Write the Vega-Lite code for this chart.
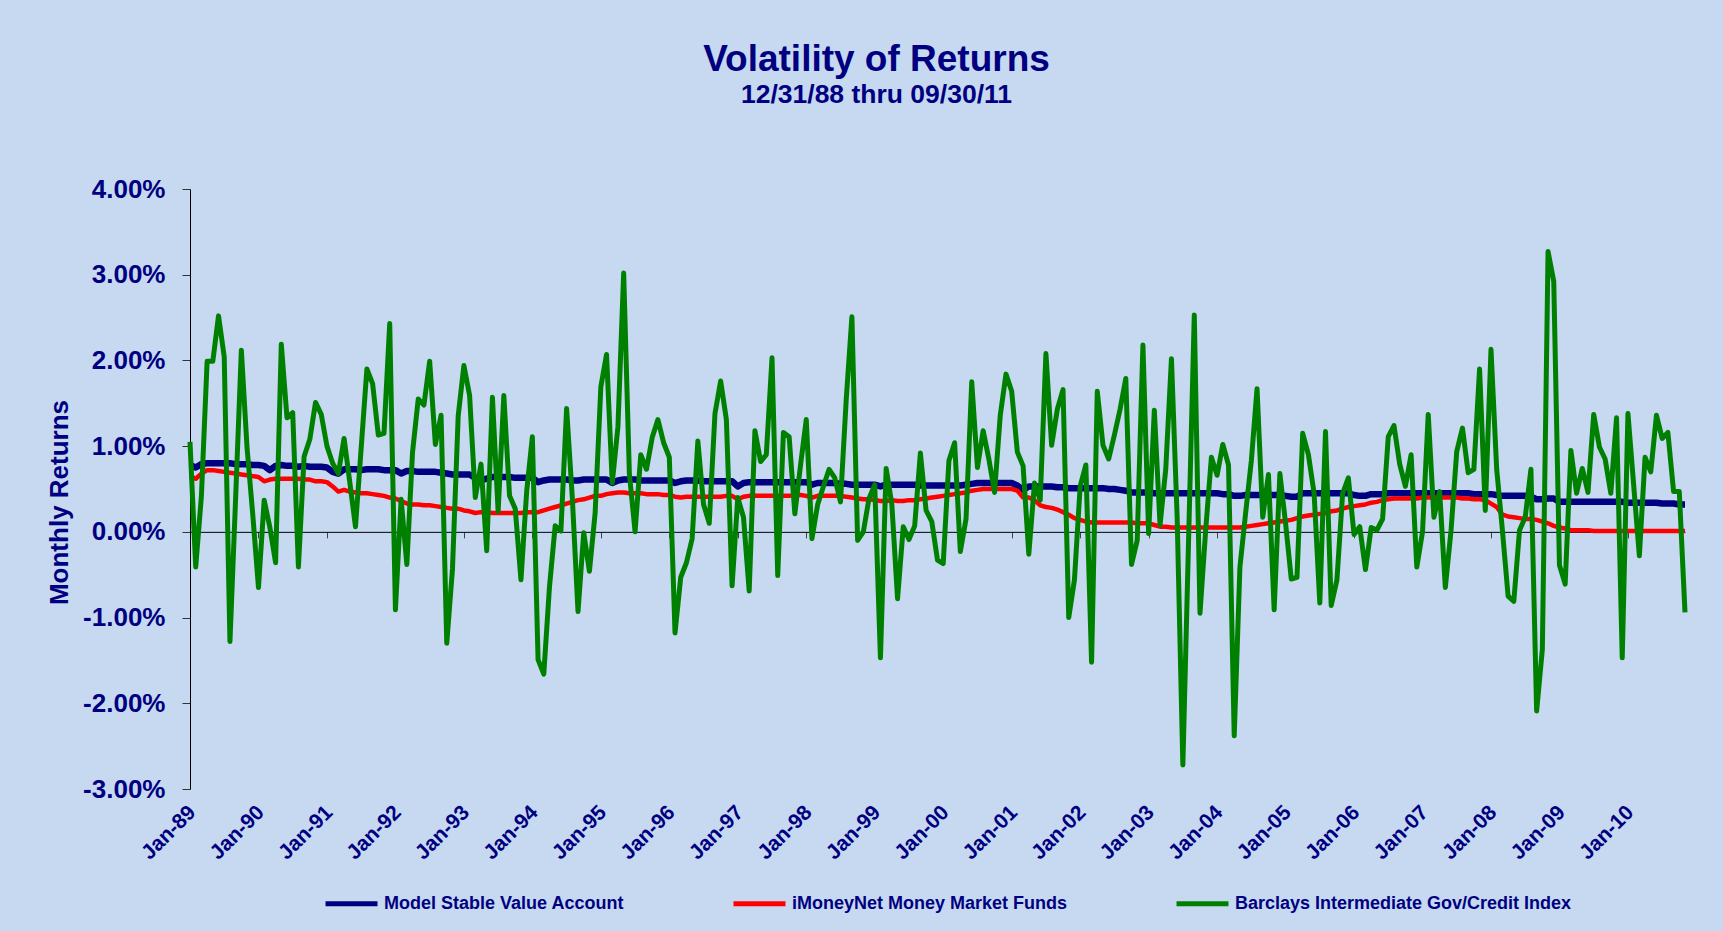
{
"$schema": "https://vega.github.io/schema/vega-lite/v6.json",
"width": 1495, "height": 600,
"autosize": {"type": "none"},
"padding": {"left": 190, "top": 189, "right": 38, "bottom": 142},
"background": "#C6D9F1",
"title": {"text": "Volatility of Returns", "subtitle": "12/31/88 thru 09/30/11", "anchor": "middle", "frame": "group", "dx": -61, "offset": 67, "font": "Liberation Sans", "fontSize": 37, "fontWeight": "bold", "color": "#000080", "subtitleFont": "Liberation Sans", "subtitleFontSize": 26.5, "subtitleFontWeight": "bold", "subtitleColor": "#000080", "subtitlePadding": 3},
"data": {"values": [
{"d":"1989-01","msv":0.78,"mm":0.65,"bc":1.05},{"d":"1989-02","msv":0.75,"mm":0.62,"bc":-0.41},{"d":"1989-03","msv":0.79,"mm":0.68,"bc":0.42},{"d":"1989-04","msv":0.80,"mm":0.72,"bc":1.99},{"d":"1989-05","msv":0.80,"mm":0.72,"bc":1.99},{"d":"1989-06","msv":0.80,"mm":0.71,"bc":2.52},{"d":"1989-07","msv":0.80,"mm":0.70,"bc":2.04},{"d":"1989-08","msv":0.80,"mm":0.69,"bc":-1.28},{"d":"1989-09","msv":0.79,"mm":0.68,"bc":0.40},{"d":"1989-10","msv":0.79,"mm":0.67,"bc":2.12},{"d":"1989-11","msv":0.79,"mm":0.66,"bc":0.98},{"d":"1989-12","msv":0.78,"mm":0.65,"bc":0.20},
{"d":"1990-01","msv":0.78,"mm":0.64,"bc":-0.65},{"d":"1990-02","msv":0.77,"mm":0.59,"bc":0.37},{"d":"1990-03","msv":0.72,"mm":0.61,"bc":0.05},{"d":"1990-04","msv":0.77,"mm":0.62,"bc":-0.36},{"d":"1990-05","msv":0.78,"mm":0.62,"bc":2.19},{"d":"1990-06","msv":0.77,"mm":0.62,"bc":1.33},{"d":"1990-07","msv":0.77,"mm":0.62,"bc":1.39},{"d":"1990-08","msv":0.76,"mm":0.62,"bc":-0.41},{"d":"1990-09","msv":0.77,"mm":0.61,"bc":0.88},{"d":"1990-10","msv":0.76,"mm":0.61,"bc":1.08},{"d":"1990-11","msv":0.76,"mm":0.59,"bc":1.51},{"d":"1990-12","msv":0.76,"mm":0.59,"bc":1.37},
{"d":"1991-01","msv":0.75,"mm":0.58,"bc":1.00},{"d":"1991-02","msv":0.70,"mm":0.53,"bc":0.80},{"d":"1991-03","msv":0.68,"mm":0.47,"bc":0.68},{"d":"1991-04","msv":0.73,"mm":0.49,"bc":1.09},{"d":"1991-05","msv":0.73,"mm":0.47,"bc":0.58},{"d":"1991-06","msv":0.73,"mm":0.46,"bc":0.06},{"d":"1991-07","msv":0.72,"mm":0.45,"bc":0.98},{"d":"1991-08","msv":0.73,"mm":0.45,"bc":1.90},{"d":"1991-09","msv":0.73,"mm":0.44,"bc":1.73},{"d":"1991-10","msv":0.73,"mm":0.43,"bc":1.13},{"d":"1991-11","msv":0.72,"mm":0.42,"bc":1.15},{"d":"1991-12","msv":0.72,"mm":0.40,"bc":2.43},
{"d":"1992-01","msv":0.72,"mm":0.39,"bc":-0.91},{"d":"1992-02","msv":0.68,"mm":0.36,"bc":0.38},{"d":"1992-03","msv":0.71,"mm":0.33,"bc":-0.38},{"d":"1992-04","msv":0.71,"mm":0.32,"bc":0.93},{"d":"1992-05","msv":0.70,"mm":0.32,"bc":1.55},{"d":"1992-06","msv":0.70,"mm":0.31,"bc":1.48},{"d":"1992-07","msv":0.70,"mm":0.31,"bc":1.99},{"d":"1992-08","msv":0.70,"mm":0.30,"bc":1.02},{"d":"1992-09","msv":0.69,"mm":0.29,"bc":1.36},{"d":"1992-10","msv":0.68,"mm":0.28,"bc":-1.30},{"d":"1992-11","msv":0.67,"mm":0.27,"bc":-0.43},{"d":"1992-12","msv":0.67,"mm":0.27,"bc":1.35},
{"d":"1993-01","msv":0.67,"mm":0.25,"bc":1.94},{"d":"1993-02","msv":0.67,"mm":0.24,"bc":1.59},{"d":"1993-03","msv":0.63,"mm":0.22,"bc":0.40},{"d":"1993-04","msv":0.60,"mm":0.23,"bc":0.79},{"d":"1993-05","msv":0.62,"mm":0.23,"bc":-0.22},{"d":"1993-06","msv":0.64,"mm":0.22,"bc":1.57},{"d":"1993-07","msv":0.64,"mm":0.22,"bc":0.24},{"d":"1993-08","msv":0.64,"mm":0.22,"bc":1.59},{"d":"1993-09","msv":0.64,"mm":0.22,"bc":0.42},{"d":"1993-10","msv":0.63,"mm":0.22,"bc":0.27},{"d":"1993-11","msv":0.63,"mm":0.22,"bc":-0.56},{"d":"1993-12","msv":0.63,"mm":0.23,"bc":0.47},
{"d":"1994-01","msv":0.63,"mm":0.23,"bc":1.11},{"d":"1994-02","msv":0.58,"mm":0.23,"bc":-1.49},{"d":"1994-03","msv":0.60,"mm":0.25,"bc":-1.66},{"d":"1994-04","msv":0.61,"mm":0.27,"bc":-0.64},{"d":"1994-05","msv":0.61,"mm":0.29,"bc":0.07},{"d":"1994-06","msv":0.61,"mm":0.31,"bc":0.01},{"d":"1994-07","msv":0.61,"mm":0.33,"bc":1.44},{"d":"1994-08","msv":0.60,"mm":0.35,"bc":0.40},{"d":"1994-09","msv":0.60,"mm":0.37,"bc":-0.93},{"d":"1994-10","msv":0.61,"mm":0.38,"bc":-0.01},{"d":"1994-11","msv":0.61,"mm":0.40,"bc":-0.46},{"d":"1994-12","msv":0.61,"mm":0.42,"bc":0.22},
{"d":"1995-01","msv":0.61,"mm":0.42,"bc":1.69},{"d":"1995-02","msv":0.61,"mm":0.44,"bc":2.07},{"d":"1995-03","msv":0.57,"mm":0.45,"bc":0.57},{"d":"1995-04","msv":0.60,"mm":0.46,"bc":1.23},{"d":"1995-05","msv":0.61,"mm":0.46,"bc":3.02},{"d":"1995-06","msv":0.61,"mm":0.45,"bc":0.68},{"d":"1995-07","msv":0.61,"mm":0.45,"bc":0.00},{"d":"1995-08","msv":0.60,"mm":0.45,"bc":0.90},{"d":"1995-09","msv":0.60,"mm":0.44,"bc":0.73},{"d":"1995-10","msv":0.60,"mm":0.44,"bc":1.10},{"d":"1995-11","msv":0.60,"mm":0.44,"bc":1.31},{"d":"1995-12","msv":0.60,"mm":0.43,"bc":1.04},
{"d":"1996-01","msv":0.60,"mm":0.43,"bc":0.87},{"d":"1996-02","msv":0.57,"mm":0.41,"bc":-1.18},{"d":"1996-03","msv":0.59,"mm":0.40,"bc":-0.53},{"d":"1996-04","msv":0.60,"mm":0.41,"bc":-0.36},{"d":"1996-05","msv":0.60,"mm":0.41,"bc":-0.08},{"d":"1996-06","msv":0.60,"mm":0.41,"bc":1.06},{"d":"1996-07","msv":0.59,"mm":0.41,"bc":0.32},{"d":"1996-08","msv":0.59,"mm":0.41,"bc":0.10},{"d":"1996-09","msv":0.59,"mm":0.41,"bc":1.38},{"d":"1996-10","msv":0.59,"mm":0.41,"bc":1.76},{"d":"1996-11","msv":0.59,"mm":0.42,"bc":1.31},{"d":"1996-12","msv":0.59,"mm":0.42,"bc":-0.63},
{"d":"1997-01","msv":0.53,"mm":0.38,"bc":0.40},{"d":"1997-02","msv":0.57,"mm":0.41,"bc":0.17},{"d":"1997-03","msv":0.58,"mm":0.42,"bc":-0.69},{"d":"1997-04","msv":0.58,"mm":0.42,"bc":1.18},{"d":"1997-05","msv":0.58,"mm":0.42,"bc":0.82},{"d":"1997-06","msv":0.58,"mm":0.42,"bc":0.90},{"d":"1997-07","msv":0.58,"mm":0.42,"bc":2.03},{"d":"1997-08","msv":0.58,"mm":0.42,"bc":-0.51},{"d":"1997-09","msv":0.58,"mm":0.42,"bc":1.16},{"d":"1997-10","msv":0.58,"mm":0.42,"bc":1.11},{"d":"1997-11","msv":0.58,"mm":0.43,"bc":0.21},{"d":"1997-12","msv":0.58,"mm":0.43,"bc":0.78},
{"d":"1998-01","msv":0.58,"mm":0.42,"bc":1.31},{"d":"1998-02","msv":0.55,"mm":0.40,"bc":-0.08},{"d":"1998-03","msv":0.57,"mm":0.42,"bc":0.32},{"d":"1998-04","msv":0.57,"mm":0.42,"bc":0.53},{"d":"1998-05","msv":0.57,"mm":0.42,"bc":0.73},{"d":"1998-06","msv":0.57,"mm":0.42,"bc":0.63},{"d":"1998-07","msv":0.56,"mm":0.42,"bc":0.35},{"d":"1998-08","msv":0.56,"mm":0.41,"bc":1.54},{"d":"1998-09","msv":0.55,"mm":0.40,"bc":2.51},{"d":"1998-10","msv":0.55,"mm":0.39,"bc":-0.10},{"d":"1998-11","msv":0.55,"mm":0.38,"bc":0.00},{"d":"1998-12","msv":0.55,"mm":0.38,"bc":0.39},
{"d":"1999-01","msv":0.55,"mm":0.37,"bc":0.55},{"d":"1999-02","msv":0.53,"mm":0.36,"bc":-1.47},{"d":"1999-03","msv":0.55,"mm":0.36,"bc":0.74},{"d":"1999-04","msv":0.55,"mm":0.37,"bc":0.32},{"d":"1999-05","msv":0.55,"mm":0.36,"bc":-0.78},{"d":"1999-06","msv":0.55,"mm":0.36,"bc":0.06},{"d":"1999-07","msv":0.55,"mm":0.37,"bc":-0.09},{"d":"1999-08","msv":0.55,"mm":0.37,"bc":0.07},{"d":"1999-09","msv":0.54,"mm":0.38,"bc":0.92},{"d":"1999-10","msv":0.54,"mm":0.39,"bc":0.25},{"d":"1999-11","msv":0.54,"mm":0.40,"bc":0.12},{"d":"1999-12","msv":0.54,"mm":0.41,"bc":-0.33},
{"d":"2000-01","msv":0.54,"mm":0.42,"bc":-0.37},{"d":"2000-02","msv":0.54,"mm":0.43,"bc":0.83},{"d":"2000-03","msv":0.54,"mm":0.44,"bc":1.04},{"d":"2000-04","msv":0.54,"mm":0.45,"bc":-0.23},{"d":"2000-05","msv":0.55,"mm":0.46,"bc":0.15},{"d":"2000-06","msv":0.56,"mm":0.48,"bc":1.75},{"d":"2000-07","msv":0.57,"mm":0.49,"bc":0.75},{"d":"2000-08","msv":0.57,"mm":0.50,"bc":1.18},{"d":"2000-09","msv":0.57,"mm":0.50,"bc":0.85},{"d":"2000-10","msv":0.57,"mm":0.50,"bc":0.46},{"d":"2000-11","msv":0.57,"mm":0.50,"bc":1.36},{"d":"2000-12","msv":0.57,"mm":0.50,"bc":1.84},
{"d":"2001-01","msv":0.57,"mm":0.50,"bc":1.64},{"d":"2001-02","msv":0.54,"mm":0.48,"bc":0.93},{"d":"2001-03","msv":0.49,"mm":0.40,"bc":0.77},{"d":"2001-04","msv":0.53,"mm":0.40,"bc":-0.26},{"d":"2001-05","msv":0.53,"mm":0.37,"bc":0.57},{"d":"2001-06","msv":0.53,"mm":0.31,"bc":0.37},{"d":"2001-07","msv":0.53,"mm":0.29,"bc":2.08},{"d":"2001-08","msv":0.53,"mm":0.28,"bc":1.01},{"d":"2001-09","msv":0.52,"mm":0.26,"bc":1.43},{"d":"2001-10","msv":0.52,"mm":0.23,"bc":1.66},{"d":"2001-11","msv":0.51,"mm":0.20,"bc":-1.00},{"d":"2001-12","msv":0.51,"mm":0.16,"bc":-0.56},
{"d":"2002-01","msv":0.51,"mm":0.14,"bc":0.53},{"d":"2002-02","msv":0.51,"mm":0.12,"bc":0.78},{"d":"2002-03","msv":0.51,"mm":0.11,"bc":-1.52},{"d":"2002-04","msv":0.51,"mm":0.11,"bc":1.64},{"d":"2002-05","msv":0.51,"mm":0.11,"bc":1.01},{"d":"2002-06","msv":0.50,"mm":0.11,"bc":0.85},{"d":"2002-07","msv":0.50,"mm":0.11,"bc":1.13},{"d":"2002-08","msv":0.49,"mm":0.11,"bc":1.43},{"d":"2002-09","msv":0.48,"mm":0.11,"bc":1.79},{"d":"2002-10","msv":0.46,"mm":0.11,"bc":-0.38},{"d":"2002-11","msv":0.46,"mm":0.10,"bc":-0.10},{"d":"2002-12","msv":0.46,"mm":0.10,"bc":2.18},
{"d":"2003-01","msv":0.46,"mm":0.10,"bc":-0.02},{"d":"2003-02","msv":0.45,"mm":0.08,"bc":1.42},{"d":"2003-03","msv":0.45,"mm":0.06,"bc":0.08},{"d":"2003-04","msv":0.45,"mm":0.06,"bc":0.73},{"d":"2003-05","msv":0.45,"mm":0.05,"bc":2.02},{"d":"2003-06","msv":0.45,"mm":0.05,"bc":0.17},{"d":"2003-07","msv":0.45,"mm":0.05,"bc":-2.72},{"d":"2003-08","msv":0.45,"mm":0.05,"bc":-0.10},{"d":"2003-09","msv":0.45,"mm":0.05,"bc":2.53},{"d":"2003-10","msv":0.45,"mm":0.05,"bc":-0.95},{"d":"2003-11","msv":0.45,"mm":0.05,"bc":0.02},{"d":"2003-12","msv":0.45,"mm":0.05,"bc":0.87},
{"d":"2004-01","msv":0.45,"mm":0.05,"bc":0.66},{"d":"2004-02","msv":0.44,"mm":0.05,"bc":1.02},{"d":"2004-03","msv":0.44,"mm":0.05,"bc":0.78},{"d":"2004-04","msv":0.42,"mm":0.05,"bc":-2.38},{"d":"2004-05","msv":0.42,"mm":0.05,"bc":-0.41},{"d":"2004-06","msv":0.43,"mm":0.06,"bc":0.22},{"d":"2004-07","msv":0.43,"mm":0.07,"bc":0.83},{"d":"2004-08","msv":0.43,"mm":0.08,"bc":1.67},{"d":"2004-09","msv":0.43,"mm":0.09,"bc":0.17},{"d":"2004-10","msv":0.43,"mm":0.10,"bc":0.67},{"d":"2004-11","msv":0.43,"mm":0.11,"bc":-0.91},{"d":"2004-12","msv":0.43,"mm":0.12,"bc":0.68},
{"d":"2005-01","msv":0.42,"mm":0.13,"bc":0.10},{"d":"2005-02","msv":0.41,"mm":0.14,"bc":-0.55},{"d":"2005-03","msv":0.41,"mm":0.16,"bc":-0.53},{"d":"2005-04","msv":0.45,"mm":0.18,"bc":1.15},{"d":"2005-05","msv":0.45,"mm":0.19,"bc":0.90},{"d":"2005-06","msv":0.45,"mm":0.20,"bc":0.45},{"d":"2005-07","msv":0.45,"mm":0.21,"bc":-0.83},{"d":"2005-08","msv":0.45,"mm":0.22,"bc":1.17},{"d":"2005-09","msv":0.45,"mm":0.24,"bc":-0.86},{"d":"2005-10","msv":0.45,"mm":0.25,"bc":-0.56},{"d":"2005-11","msv":0.45,"mm":0.27,"bc":0.45},{"d":"2005-12","msv":0.45,"mm":0.29,"bc":0.63},
{"d":"2006-01","msv":0.43,"mm":0.30,"bc":-0.03},{"d":"2006-02","msv":0.42,"mm":0.31,"bc":0.06},{"d":"2006-03","msv":0.42,"mm":0.32,"bc":-0.44},{"d":"2006-04","msv":0.44,"mm":0.34,"bc":0.05},{"d":"2006-05","msv":0.44,"mm":0.35,"bc":0.02},{"d":"2006-06","msv":0.44,"mm":0.37,"bc":0.15},{"d":"2006-07","msv":0.45,"mm":0.38,"bc":1.11},{"d":"2006-08","msv":0.45,"mm":0.39,"bc":1.24},{"d":"2006-09","msv":0.45,"mm":0.39,"bc":0.79},{"d":"2006-10","msv":0.45,"mm":0.39,"bc":0.53},{"d":"2006-11","msv":0.45,"mm":0.39,"bc":0.90},{"d":"2006-12","msv":0.45,"mm":0.39,"bc":-0.41},
{"d":"2007-01","msv":0.45,"mm":0.40,"bc":0.00},{"d":"2007-02","msv":0.45,"mm":0.40,"bc":1.37},{"d":"2007-03","msv":0.45,"mm":0.40,"bc":0.17},{"d":"2007-04","msv":0.45,"mm":0.40,"bc":0.47},{"d":"2007-05","msv":0.45,"mm":0.40,"bc":-0.65},{"d":"2007-06","msv":0.45,"mm":0.40,"bc":0.02},{"d":"2007-07","msv":0.45,"mm":0.40,"bc":0.94},{"d":"2007-08","msv":0.45,"mm":0.39,"bc":1.21},{"d":"2007-09","msv":0.45,"mm":0.39,"bc":0.69},{"d":"2007-10","msv":0.44,"mm":0.38,"bc":0.73},{"d":"2007-11","msv":0.44,"mm":0.38,"bc":1.90},{"d":"2007-12","msv":0.44,"mm":0.37,"bc":0.25},
{"d":"2008-01","msv":0.44,"mm":0.33,"bc":2.13},{"d":"2008-02","msv":0.43,"mm":0.29,"bc":0.73},{"d":"2008-03","msv":0.42,"mm":0.20,"bc":0.02},{"d":"2008-04","msv":0.42,"mm":0.18,"bc":-0.75},{"d":"2008-05","msv":0.42,"mm":0.17,"bc":-0.81},{"d":"2008-06","msv":0.42,"mm":0.16,"bc":0.02},{"d":"2008-07","msv":0.42,"mm":0.15,"bc":0.17},{"d":"2008-08","msv":0.41,"mm":0.15,"bc":0.73},{"d":"2008-09","msv":0.38,"mm":0.14,"bc":-2.09},{"d":"2008-10","msv":0.38,"mm":0.12,"bc":-1.37},{"d":"2008-11","msv":0.39,"mm":0.10,"bc":3.27},{"d":"2008-12","msv":0.39,"mm":0.07,"bc":2.92},
{"d":"2009-01","msv":0.35,"mm":0.05,"bc":-0.39},{"d":"2009-02","msv":0.35,"mm":0.04,"bc":-0.61},{"d":"2009-03","msv":0.35,"mm":0.02,"bc":0.95},{"d":"2009-04","msv":0.35,"mm":0.02,"bc":0.45},{"d":"2009-05","msv":0.35,"mm":0.02,"bc":0.74},{"d":"2009-06","msv":0.35,"mm":0.02,"bc":0.46},{"d":"2009-07","msv":0.35,"mm":0.01,"bc":1.37},{"d":"2009-08","msv":0.35,"mm":0.01,"bc":0.99},{"d":"2009-09","msv":0.35,"mm":0.01,"bc":0.85},{"d":"2009-10","msv":0.35,"mm":0.01,"bc":0.45},{"d":"2009-11","msv":0.35,"mm":0.01,"bc":1.33},{"d":"2009-12","msv":0.35,"mm":0.01,"bc":-1.47},
{"d":"2010-01","msv":0.34,"mm":0.01,"bc":1.38},{"d":"2010-02","msv":0.34,"mm":0.01,"bc":0.55},{"d":"2010-03","msv":0.34,"mm":0.01,"bc":-0.28},{"d":"2010-04","msv":0.34,"mm":0.01,"bc":0.87},{"d":"2010-05","msv":0.34,"mm":0.01,"bc":0.70},{"d":"2010-06","msv":0.34,"mm":0.01,"bc":1.36},{"d":"2010-07","msv":0.33,"mm":0.01,"bc":1.09},{"d":"2010-08","msv":0.33,"mm":0.01,"bc":1.16},{"d":"2010-09","msv":0.33,"mm":0.01,"bc":0.47},{"d":"2010-10","msv":0.32,"mm":0.01,"bc":0.47},{"d":"2010-11","msv":0.32,"mm":0.01,"bc":-0.94}
]},
"layer": [
{"mark": {"type": "line", "opacity": 0},
 "encoding": {
  "x": {"field": "d", "type": "ordinal", "scale": {"type": "point", "padding": 0},
        "axis": {"orient": "bottom", "offset": -257.142857, "labels": false, "ticks": true, "tickSize": 6, "tickColor": "#404040", "tickWidth": 1, "domain": true, "domainColor": "#000000", "domainWidth": 1, "grid": false, "title": null,
                 "values": ["1989-01","1990-01","1991-01","1992-01","1993-01","1994-01","1995-01","1996-01","1997-01","1998-01","1999-01","2000-01","2001-01","2002-01","2003-01","2004-01","2005-01","2006-01","2007-01","2008-01","2009-01","2010-01"]}},
  "y": {"field": "msv", "type": "quantitative", "scale": {"domain": [-3, 4], "nice": false, "zero": false}, "title": "Monthly Returns", "axis": {"values": [-3, -2, -1, 0, 1, 2, 3, 4]}}
 }},
{"mark": {"type": "line", "strokeWidth": 6.5, "strokeJoin": "round"},
 "encoding": {
  "x": {"field": "d", "type": "ordinal", "scale": {"type": "point", "padding": 0},
        "axis": {"orient": "bottom", "values": ["1989-01","1990-01","1991-01","1992-01","1993-01","1994-01","1995-01","1996-01","1997-01","1998-01","1999-01","2000-01","2001-01","2002-01","2003-01","2004-01","2005-01","2006-01","2007-01","2008-01","2009-01","2010-01"],
                 "labelExpr": "'Jan-' + slice(datum.value, 2, 4)", "labelAngle": -45, "labelAlign": "right", "labelBaseline": "middle", "labelFont": "Liberation Sans", "labelFontSize": 21, "labelFontWeight": "bold", "labelColor": "#000080", "labelPadding": 20, "labelOffset": 2, "ticks": false, "tickSize": 0, "domain": false, "grid": false, "title": null, "labelOverlap": false, "labelBound": false, "labelFlush": false}},
  "y": {"field": "msv", "type": "quantitative", "scale": {"domain": [-3, 4], "nice": false, "zero": false}, "title": "Monthly Returns", "axis": {"values": [-3, -2, -1, 0, 1, 2, 3, 4]}},
  "color": {"datum": "Model Stable Value Account", "type": "nominal",
            "scale": {"domain": ["Model Stable Value Account", "iMoneyNet Money Market Funds", "Barclays Intermediate Gov/Credit Index"], "range": ["#000080", "#FF0000", "#008000"]},
            "legend": {"orient": "none", "legendX": 133, "legendY": 686, "direction": "horizontal", "columns": 3, "title": null, "symbolType": "stroke", "symbolSize": 2700, "symbolStrokeWidth": 5, "labelFont": "Liberation Sans", "labelFontSize": 18, "labelFontWeight": "bold", "labelColor": "#000080", "labelOffset": 4, "columnPadding": 98, "padding": 0, "labelLimit": 0}}
 }},
{"mark": {"type": "line", "strokeWidth": 4.5, "strokeJoin": "round"},
 "encoding": {
  "x": {"field": "d", "type": "ordinal", "scale": {"type": "point", "padding": 0}, "axis": null},
  "y": {"field": "mm", "type": "quantitative", "scale": {"domain": [-3, 4], "nice": false, "zero": false}, "title": "Monthly Returns", "axis": {"values": [-3, -2, -1, 0, 1, 2, 3, 4]}},
  "color": {"datum": "iMoneyNet Money Market Funds", "type": "nominal"}
 }},
{"mark": {"type": "line", "strokeWidth": 5, "strokeJoin": "round"},
 "encoding": {
  "x": {"field": "d", "type": "ordinal", "scale": {"type": "point", "padding": 0}, "axis": null},
  "y": {"field": "bc", "type": "quantitative", "scale": {"domain": [-3, 4], "nice": false, "zero": false}, "title": "Monthly Returns", "axis": {"values": [-3, -2, -1, 0, 1, 2, 3, 4]}},
  "color": {"datum": "Barclays Intermediate Gov/Credit Index", "type": "nominal"}
 }}
],
"resolve": {"axis": {"x": "independent"}},
"config": {
 "view": {"stroke": null},
 "axisY": {"labelExpr": "(datum.value < 0 ? '-' : '') + format(abs(datum.value), '.2f') + '%'", "labelFont": "Liberation Sans", "labelFontSize": 26, "labelFontWeight": "bold", "labelColor": "#000080", "labelPadding": 17, "tickSize": 8, "tickColor": "#333333", "domainColor": "#000000", "grid": false, "titleFont": "Liberation Sans", "titleFontSize": 26, "titleFontWeight": "bold", "titleColor": "#000080", "titleX": -123, "titleY": 313, "titleAngle": 270, "titleAlign": "center", "titleBaseline": "alphabetic"}
}
}
